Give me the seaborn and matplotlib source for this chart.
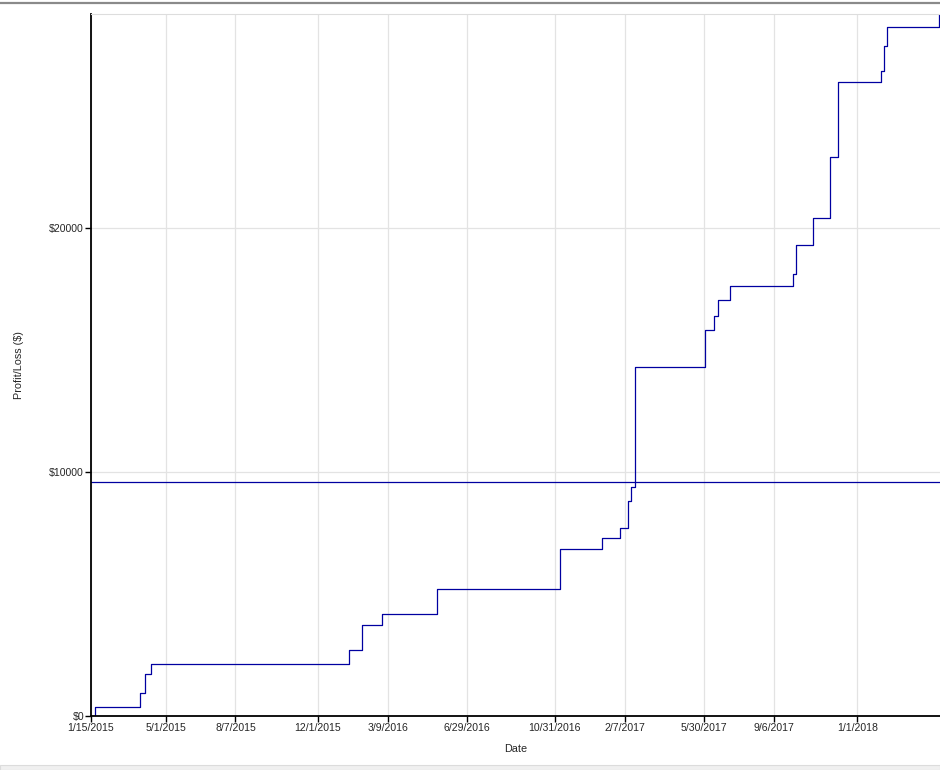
import matplotlib
matplotlib.use("Agg")
import matplotlib.pyplot as plt
from matplotlib.patches import Rectangle
from matplotlib.lines import Line2D
import seaborn as sns
import pandas as pd

# Trade dates and cumulative profit/loss
trade_dates = [
    "2015-01-15", "2015-01-21", "2015-03-25", "2015-04-01", "2015-04-10",
    "2016-01-14", "2016-02-02", "2016-03-01", "2016-05-18", "2016-11-08",
    "2017-01-05", "2017-01-31", "2017-02-12", "2017-02-16", "2017-02-21",
    "2017-05-31", "2017-06-13", "2017-06-18", "2017-07-05", "2017-10-02",
    "2017-10-06", "2017-10-31", "2017-11-24", "2017-12-05", "2018-02-04",
    "2018-02-08", "2018-02-12", "2018-04-26", "2018-04-28",
]
cum_pnl = [
    0, 370, 930, 1710, 2120,
    2690, 3720, 4170, 5200, 6830,
    7280, 7690, 8820, 9370, 14290,
    15810, 16380, 17040, 17610, 18140,
    19290, 20400, 22900, 26010, 26460,
    27450, 28230, 28770, 28770,
]
average_line = 9580

x_ticks = ["2015-01-15", "2015-05-01", "2015-08-07", "2015-12-01", "2016-03-09",
           "2016-06-29", "2016-10-31", "2017-02-07", "2017-05-30", "2017-09-06",
           "2018-01-01"]
x_tick_labels = ["1/15/2015", "5/1/2015", "8/7/2015", "12/1/2015", "3/9/2016",
                 "6/29/2016", "10/31/2016", "2/7/2017", "5/30/2017", "9/6/2017",
                 "1/1/2018"]
y_ticks = [0, 10000, 20000]
y_tick_labels = ["$0", "$10000", "$20000"]

df = pd.DataFrame({"Date": pd.to_datetime(trade_dates), "PnL": cum_pnl})

sns.set_style("white")
plt.rcParams["font.family"] = ["Liberation Sans", "DejaVu Sans"]

fig = plt.figure(figsize=(9.4, 7.7), dpi=100)
ax = fig.add_axes([91 / 940, 54 / 770, 849 / 940, 702 / 770])

line_color = "#0000a0"
sns.lineplot(data=df, x="Date", y="PnL", ax=ax, color=line_color,
             linewidth=0.9, drawstyle="steps-post")
ax.axhline(average_line, color=line_color, linewidth=0.9)

ax.set_xlim(pd.Timestamp("2015-01-15"), pd.Timestamp("2018-04-28"))
ax.set_ylim(0, 28780)
ax.set_xticks(pd.to_datetime(x_ticks))
ax.set_xticklabels(x_tick_labels)
ax.set_yticks(y_ticks)
ax.set_yticklabels(y_tick_labels)

ax.grid(True, color="#e3e3e3", linewidth=0.9)
ax.set_axisbelow(True)
for side in ["left", "bottom"]:
    ax.spines[side].set_color("black")
    ax.spines[side].set_linewidth(1.3)
ax.spines["top"].set_color("#dddddd")
ax.spines["right"].set_visible(False)
ax.tick_params(axis="both", direction="out", length=4, width=1, color="black",
               labelsize=7.6, pad=1, bottom=True, left=True)

ax.set_xlabel("Date", fontsize=7.8, labelpad=8)
ax.set_ylabel("Profit/Loss ($)", fontsize=7.8, labelpad=18)

# window frame bits
fig.add_artist(Line2D([0, 1], [1 - 2.5 / 770, 1 - 2.5 / 770], color="#8a8a8a",
                      linewidth=1.6, transform=fig.transFigure))
fig.add_artist(Rectangle((0, 0), 1, 5 / 770, facecolor="#f0f0f0",
                         edgecolor="#dcdcdc", linewidth=0.8,
                         transform=fig.transFigure))

fig.savefig("out.png", dpi=100)
